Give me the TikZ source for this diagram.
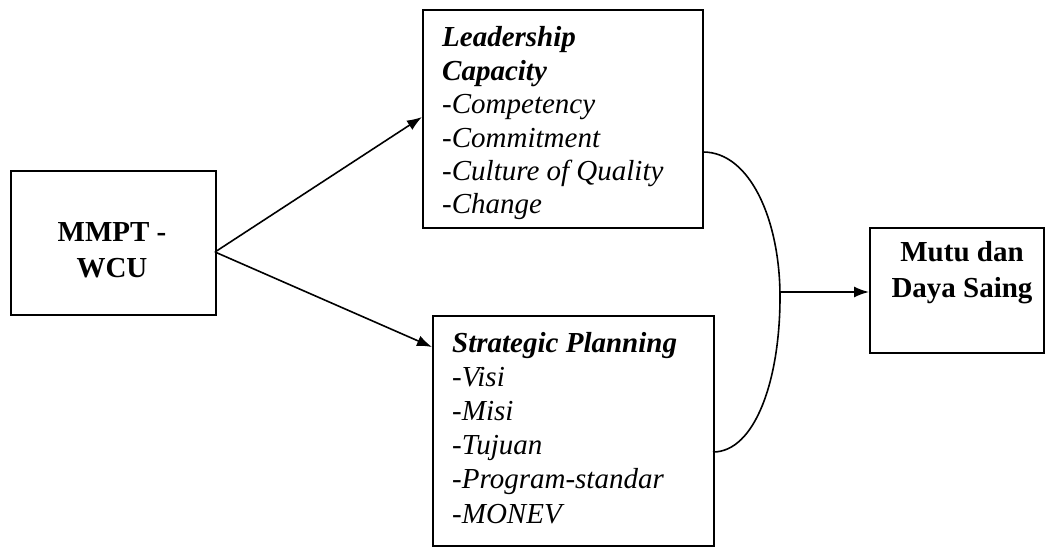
\documentclass[tikz,border=0pt]{standalone}
\usepackage{fontspec}
\setmainfont{Liberation Serif}
\usetikzlibrary{arrows.meta}
\begin{document}
\begin{tikzpicture}[x=1pt,y=-1pt,
  box/.style={draw,line width=2pt,inner sep=0pt,anchor=north west},
  txt/.style={inner sep=0pt,align=left,anchor=base west},
  btxt/.style={inner sep=0pt,align=center,anchor=base,font=\fontsize{29}{36}\selectfont\bfseries},
  arr/.style={line width=1.6pt,-{Latex[length=15pt,width=11pt]}},
  con/.style={line width=1.6pt}]
\useasboundingbox (0,0) rectangle (1045,548);
% boxes
\node[box,minimum width=205pt,minimum height=144pt] (mmpt) at (10,170) {};
\node[box,minimum width=280pt,minimum height=218pt] (lead) at (422,9) {};
\node[box,minimum width=281pt,minimum height=230pt] (strat) at (432,315) {};
\node[box,minimum width=174pt,minimum height=125pt] (mutu) at (869,227) {};
% texts (anchor = baseline of last line)
\node[btxt] (mmpttxt) at (112,278) {MMPT -\\WCU};
\node[btxt] (mututxt) at (962,298) {Mutu dan\\Daya Saing};
\node[txt,font=\fontsize{29}{33.4}\selectfont] (leadtxt) at (442,214) {\textbf{\textit{Leadership}}\\\textbf{\textit{Capacity}}\\-\textit{Competency}\\-\textit{Commitment}\\-\textit{Culture of Quality}\\-\textit{Change}};
\node[txt,font=\fontsize{29}{34.2}\selectfont] (strattxt) at (452,523) {\textbf{\textit{Strategic Planning}}\\-\textit{Visi}\\-\textit{Misi}\\-\textit{Tujuan}\\-\textit{Program-standar}\\-\textit{MONEV}};
% connectors
\coordinate (src) at (215,252);
\coordinate (t1) at (422,117);
\coordinate (t2) at (432,347);
\draw[arr] (src) -- (t1);
\draw[arr] (src) -- (t2);
\coordinate (c1) at (703,152);
\coordinate (join) at (780,292);
\coordinate (c2) at (713,452);
\draw[con] (c1) .. controls (750,152) and (780,220) .. (780,297) .. controls (780,380) and (755,452) .. (c2);
\draw[arr] (join) -- (join -| mutu.west);
\end{tikzpicture}
\end{document}
